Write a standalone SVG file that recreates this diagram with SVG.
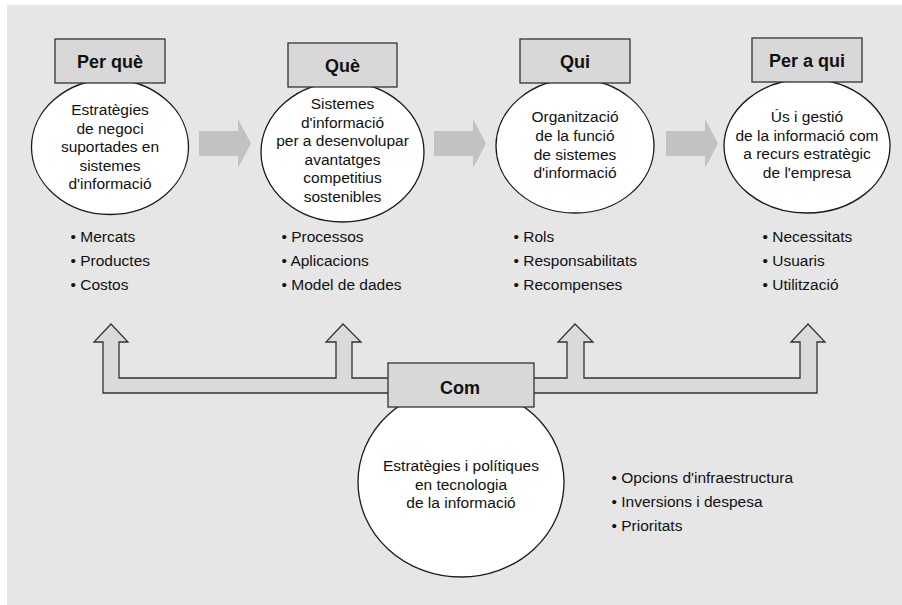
<svg xmlns="http://www.w3.org/2000/svg" width="902" height="605" viewBox="0 0 902 605">
<style>
.bg{fill:#e6e6e6}
.ell{fill:#ffffff;stroke:#1a1a1a;stroke-width:1.3}
.box{fill:#d8d8d8;stroke:#333333;stroke-width:1.3}
.hd{font-family:"Liberation Sans",Arial,sans-serif;font-size:18px;font-weight:bold;fill:#111;text-anchor:middle}
.tx{font-family:"Liberation Sans",Arial,sans-serif;font-size:15.5px;fill:#111;text-anchor:middle}
.bl{font-family:"Liberation Sans",Arial,sans-serif;font-size:15.5px;fill:#111}
.flow{fill:#c2c2c2}
.tee{fill:#dadada;stroke:#333333;stroke-width:1.3;stroke-linejoin:miter}
</style>
<rect class="bg" x="7" y="5" width="895" height="600"/>
<g id="connectors">
<polygon class="flow" points="199,131 238,131 238,119 251,143.5 238,168 238,156 199,156"/>
<polygon class="flow" points="434,131 473,131 473,119 486,143.5 473,168 473,156 434,156"/>
<polygon class="flow" points="666,131 705,131 705,119 718,143.5 705,168 705,156 666,156"/>
<polygon class="tee" points="103,393 103,342 94,342 111,324 128,342 119,342 119,378 336,378 336,342 326,342 343,324 361,342 352,342 352,378 567,378 567,342 558,342 575,324 593,342 584,342 584,378 800,378 800,342 791,342 808,324 825,342 817,342 817,393"/>
</g>
<g id="node-perque">
<ellipse class="ell" cx="110" cy="147" rx="78.5" ry="67.5"/>
<rect class="box" x="55" y="39" width="110" height="44"/>
<text class="hd" x="110" y="68">Per què</text>
<text class="tx" x="110" y="115">Estratègies</text>
<text class="tx" x="110" y="133.5">de negoci</text>
<text class="tx" x="110" y="152">suportades en</text>
<text class="tx" x="110" y="171">sistemes</text>
<text class="tx" x="110" y="189">d'informació</text>
<text class="bl" x="70.5" y="242">• Mercats</text>
<text class="bl" x="70.5" y="266">• Productes</text>
<text class="bl" x="70.5" y="290">• Costos</text>
</g>
<g id="node-que">
<ellipse class="ell" cx="342.5" cy="152" rx="81.5" ry="70"/>
<rect class="box" x="288" y="43" width="109" height="44"/>
<text class="hd" x="342.5" y="72">Què</text>
<text class="tx" x="342.5" y="109">Sistemes</text>
<text class="tx" x="342.5" y="128">d'informació</text>
<text class="tx" x="342.5" y="146">per a desenvolupar</text>
<text class="tx" x="342.5" y="165">avantatges</text>
<text class="tx" x="342.5" y="183">competitius</text>
<text class="tx" x="342.5" y="202">sostenibles</text>
<text class="bl" x="281.5" y="242">• Processos</text>
<text class="bl" x="281.5" y="266">• Aplicacions</text>
<text class="bl" x="281.5" y="290">• Model de dades</text>
</g>
<g id="node-qui">
<ellipse class="ell" cx="575" cy="146" rx="79" ry="67"/>
<rect class="box" x="520" y="39" width="110" height="44"/>
<text class="hd" x="575" y="68">Qui</text>
<text class="tx" x="575" y="122">Organització</text>
<text class="tx" x="575" y="141">de la funció</text>
<text class="tx" x="575" y="160">de sistemes</text>
<text class="tx" x="575" y="178">d'informació</text>
<text class="bl" x="513.5" y="242">• Rols</text>
<text class="bl" x="513.5" y="266">• Responsabilitats</text>
<text class="bl" x="513.5" y="290">• Recompenses</text>
</g>
<g id="node-peraqui">
<ellipse class="ell" cx="807" cy="146" rx="83" ry="67"/>
<rect class="box" x="752" y="38" width="110" height="44"/>
<text class="hd" x="807" y="67">Per a qui</text>
<text class="tx" x="807" y="122">Ús i gestió</text>
<text class="tx" x="807" y="141">de la informació com</text>
<text class="tx" x="807" y="159">a recurs estratègic</text>
<text class="tx" x="807" y="178">de l'empresa</text>
<text class="bl" x="762.5" y="242">• Necessitats</text>
<text class="bl" x="762.5" y="266">• Usuaris</text>
<text class="bl" x="762.5" y="290">• Utilització</text>
</g>
<g id="node-com">
<ellipse class="ell" cx="461" cy="482" rx="103" ry="95"/>
<rect class="box" x="388" y="363" width="146" height="44"/>
<text class="hd" x="460" y="394">Com</text>
<text class="tx" x="461" y="471">Estratègies i polítiques</text>
<text class="tx" x="461" y="490">en tecnologia</text>
<text class="tx" x="461" y="508">de la informació</text>
<text class="bl" x="611.5" y="483">• Opcions d'infraestructura</text>
<text class="bl" x="611.5" y="507">• Inversions i despesa</text>
<text class="bl" x="611.5" y="531">• Prioritats</text>
</g>
</svg>
